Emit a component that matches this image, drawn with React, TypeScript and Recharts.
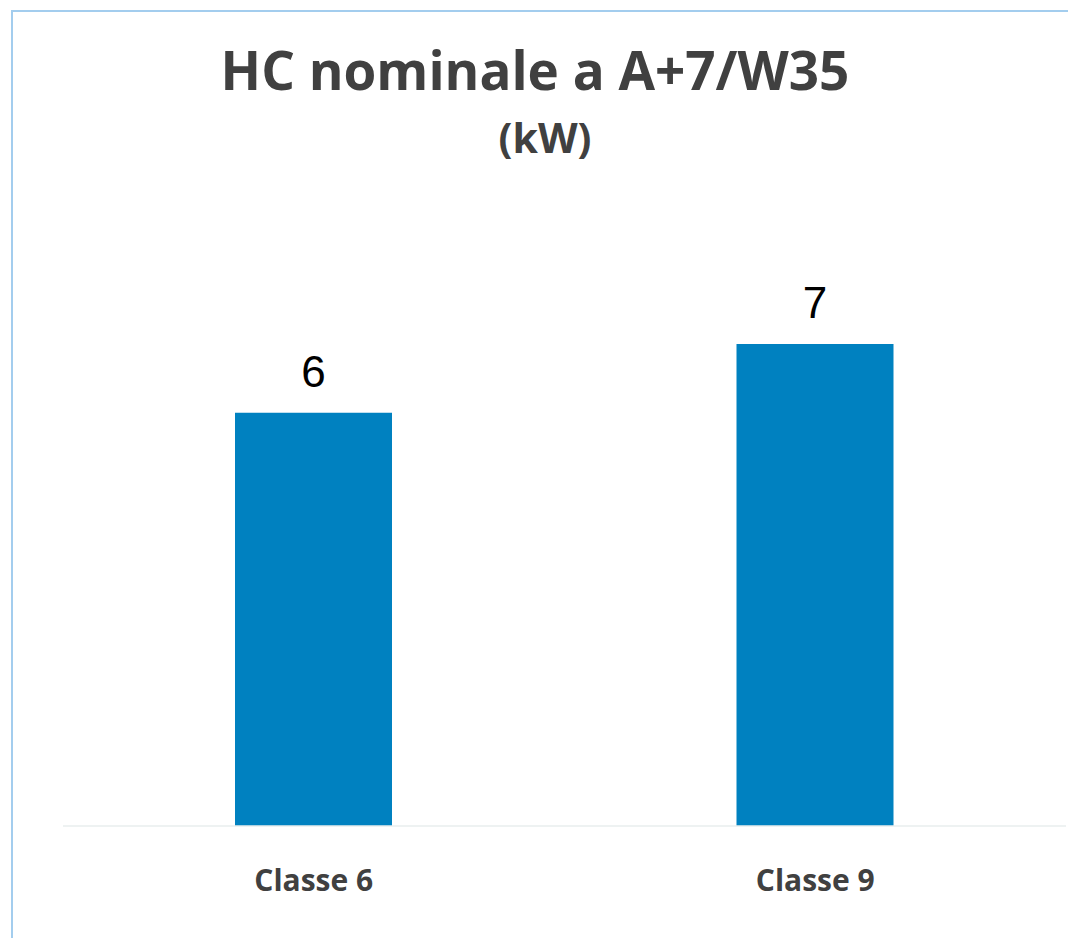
import React from 'react';
import { BarChart, Bar, XAxis, YAxis, LabelList } from 'recharts';

const categories = ['Classe 6', 'Classe 9'];
const nominalKw = [6, 7];

const chartData = categories.map((name, i) => ({ name, value: nominalKw[i] }));

const TEXT_GREY = '#404040';
const BAR_BLUE = '#0081C0';

const ClassTick = (props: any) => {
  const { x, y, payload } = props;
  return (
    <text
      x={x}
      y={y + 65}
      textAnchor="middle"
      fill={TEXT_GREY}
      fontFamily="'Open Sans', sans-serif"
      fontWeight={700}
      fontSize={30}
    >
      {payload.value}
    </text>
  );
};

export default function App() {
  return (
    <div style={{ position: 'relative', width: 1068, height: 930 }}>
      {/* light blue frame, only top and left edges show */}
      <div
        style={{
          position: 'absolute',
          left: 3,
          top: 2,
          right: -20,
          bottom: -20,
          borderTop: '2px solid #A3CDEE',
          borderLeft: '2px solid #A3CDEE',
        }}
      />
      <svg
        width={1068}
        height={200}
        style={{ position: 'absolute', left: 0, top: 0 }}
      >
        <text
          x={527}
          y={82}
          textAnchor="middle"
          fill={TEXT_GREY}
          fontFamily="'Open Sans', sans-serif"
          fontWeight={700}
          fontSize={53}
        >
          HC nominale a A+7/W35
        </text>
        <text
          x={537}
          y={145}
          textAnchor="middle"
          fill={TEXT_GREY}
          fontFamily="'Open Sans', sans-serif"
          fontWeight={700}
          fontSize={41}
        >
          (kW)
        </text>
      </svg>
      <div style={{ position: 'absolute', left: 0, top: 0 }}>
        <BarChart
          width={1068}
          height={930}
          data={chartData}
          margin={{ top: 267, right: 10, bottom: 52, left: 55 }}
          barSize={157}
        >
          <XAxis
            dataKey="name"
            axisLine={{ stroke: '#E8EEEE', strokeWidth: 1.5 }}
            tickLine={false}
            tickSize={0}
            tickMargin={0}
            height={60}
            tick={<ClassTick />}
            interval={0}
          />
          <YAxis hide domain={[0, 8]} />
          <Bar dataKey="value" fill={BAR_BLUE} isAnimationActive={false}>
            <LabelList
              dataKey="value"
              position="top"
              offset={26}
              fill="#000000"
              fontSize={44}
              fontFamily="'Liberation Sans', Arial, sans-serif"
            />
          </Bar>
        </BarChart>
      </div>
    </div>
  );
}
